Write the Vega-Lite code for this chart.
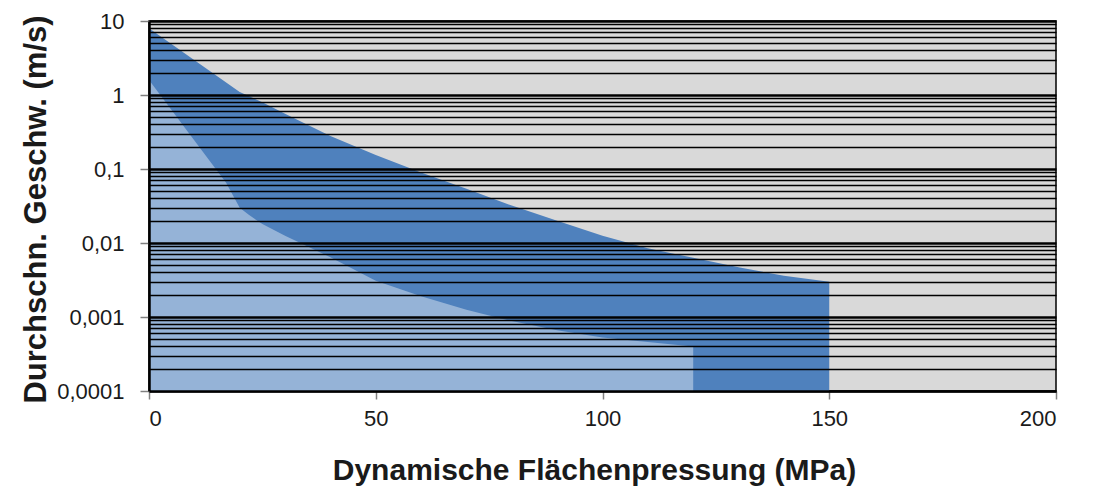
{
  "$schema": "https://vega.github.io/schema/vega-lite/v6.json",
  "width": 907,
  "height": 370,
  "autosize": {"type": "none"},
  "padding": {"left": 149, "top": 21, "right": 37, "bottom": 109},
  "background": "white",
  "config": {
    "view": {"fill": "#d9d9d9", "stroke": "#000000", "strokeWidth": 1.5},
    "font": "Liberation Sans"
  },
  "data": {
    "values": [
      {"bereich": "oben", "pressung": 0, "geschw": 8},
      {"bereich": "oben", "pressung": 20, "geschw": 1.1},
      {"bereich": "oben", "pressung": 25, "geschw": 0.8},
      {"bereich": "oben", "pressung": 30, "geschw": 0.56},
      {"bereich": "oben", "pressung": 40, "geschw": 0.28},
      {"bereich": "oben", "pressung": 50, "geschw": 0.155},
      {"bereich": "oben", "pressung": 60, "geschw": 0.09},
      {"bereich": "oben", "pressung": 70, "geschw": 0.054},
      {"bereich": "oben", "pressung": 80, "geschw": 0.032},
      {"bereich": "oben", "pressung": 90, "geschw": 0.02},
      {"bereich": "oben", "pressung": 100, "geschw": 0.0125},
      {"bereich": "oben", "pressung": 110, "geschw": 0.0085},
      {"bereich": "oben", "pressung": 120, "geschw": 0.0063},
      {"bereich": "oben", "pressung": 130, "geschw": 0.0047},
      {"bereich": "oben", "pressung": 140, "geschw": 0.0036},
      {"bereich": "oben", "pressung": 150, "geschw": 0.003},
      {"bereich": "unten", "pressung": 0, "geschw": 1.6},
      {"bereich": "unten", "pressung": 17, "geschw": 0.065},
      {"bereich": "unten", "pressung": 20, "geschw": 0.03},
      {"bereich": "unten", "pressung": 22, "geschw": 0.024},
      {"bereich": "unten", "pressung": 25, "geschw": 0.018},
      {"bereich": "unten", "pressung": 30, "geschw": 0.0125},
      {"bereich": "unten", "pressung": 35, "geschw": 0.009},
      {"bereich": "unten", "pressung": 40, "geschw": 0.0064},
      {"bereich": "unten", "pressung": 50, "geschw": 0.0031},
      {"bereich": "unten", "pressung": 60, "geschw": 0.0019},
      {"bereich": "unten", "pressung": 70, "geschw": 0.00125},
      {"bereich": "unten", "pressung": 80, "geschw": 0.00088},
      {"bereich": "unten", "pressung": 90, "geschw": 0.00066},
      {"bereich": "unten", "pressung": 100, "geschw": 0.00053},
      {"bereich": "unten", "pressung": 110, "geschw": 0.00046},
      {"bereich": "unten", "pressung": 120, "geschw": 0.0004}
    ]
  },
  "layer": [
    {
      "transform": [{"filter": "datum.bereich === 'oben'"}],
      "mark": {"type": "area", "color": "#4f81bd", "opacity": 1},
      "encoding": {
        "x": {
          "field": "pressung",
          "type": "quantitative",
          "scale": {"domain": [0, 200], "nice": false, "zero": false},
          "axis": {
            "values": [0, 50, 100, 150, 200],
            "title": "Dynamische Flächenpressung (MPa)",
            "grid": false,
            "domainColor": "#000000",
            "domainWidth": 2,
            "tickColor": "#808080",
            "tickWidth": 1.5,
            "tickSize": 8,
            "labelFontSize": 22,
            "labelColor": "#1a1a1a",
            "labelPadding": 9,
            "labelFont": "Liberation Sans",
            "titleFont": "Liberation Sans",
            "titleFontSize": 30,
            "titleFontWeight": "bold",
            "titleColor": "#1a1a1a",
            "titleX": 445,
            "titleY": 88,
            "titleBaseline": "alphabetic",
            "titleAlign": "center"
          }
        },
        "y": {
          "field": "geschw",
          "type": "quantitative",
          "scale": {"type": "log", "domain": [0.0001, 10], "nice": false},
          "axis": {
            "zindex": 1,
            "values": [0.0001, 0.0002, 0.0003, 0.0004, 0.0005, 0.0006, 0.0007, 0.0008, 0.0009,
                       0.001, 0.002, 0.003, 0.004, 0.005, 0.006, 0.007, 0.008, 0.009,
                       0.01, 0.02, 0.03, 0.04, 0.05, 0.06, 0.07, 0.08, 0.09,
                       0.1, 0.2, 0.3, 0.4, 0.5, 0.6, 0.7, 0.8, 0.9,
                       1, 2, 3, 4, 5, 6, 7, 8, 9, 10],
            "labelExpr": "indexof([0.0001, 0.001, 0.01, 0.1, 1, 10], datum.value) >= 0 ? replace(toString(datum.value), '.', ',') : ''",
            "title": "Durchschn. Geschw. (m/s)",
            "grid": true,
            "gridColor": "#000000",
            "gridOpacity": 1,
            "gridWidth": {"condition": {"test": "indexof([0.0001, 0.001, 0.01, 0.1, 1, 10], datum.value) >= 0", "value": 2.5}, "value": 1.5},
            "domainColor": "#000000",
            "domainWidth": 2.5,
            "tickColor": "#808080",
            "tickWidth": 1.5,
            "tickSize": 9,
            "tickOpacity": {"condition": {"test": "indexof([0.0001, 0.001, 0.01, 0.1, 1, 10], datum.value) >= 0", "value": 1}, "value": 0},
            "labelFontSize": 22,
            "labelColor": "#1a1a1a",
            "labelPadding": 16,
            "labelFont": "Liberation Sans",
            "labelOverlap": false,
            "labelBound": false,
            "titleFont": "Liberation Sans",
            "titleFontSize": 31,
            "titleFontWeight": "bold",
            "titleColor": "#1a1a1a",
            "titleAngle": -90,
            "titleX": -104,
            "titleY": 188,
            "titleBaseline": "alphabetic",
            "titleAlign": "center"
          }
        },
        "y2": {"datum": 0.0001}
      }
    },
    {
      "transform": [{"filter": "datum.bereich === 'unten'"}],
      "mark": {"type": "area", "color": "#95b3d7", "opacity": 1},
      "encoding": {
        "x": {"field": "pressung", "type": "quantitative"},
        "y": {"field": "geschw", "type": "quantitative"},
        "y2": {"datum": 0.0001}
      }
    }
  ]
}
